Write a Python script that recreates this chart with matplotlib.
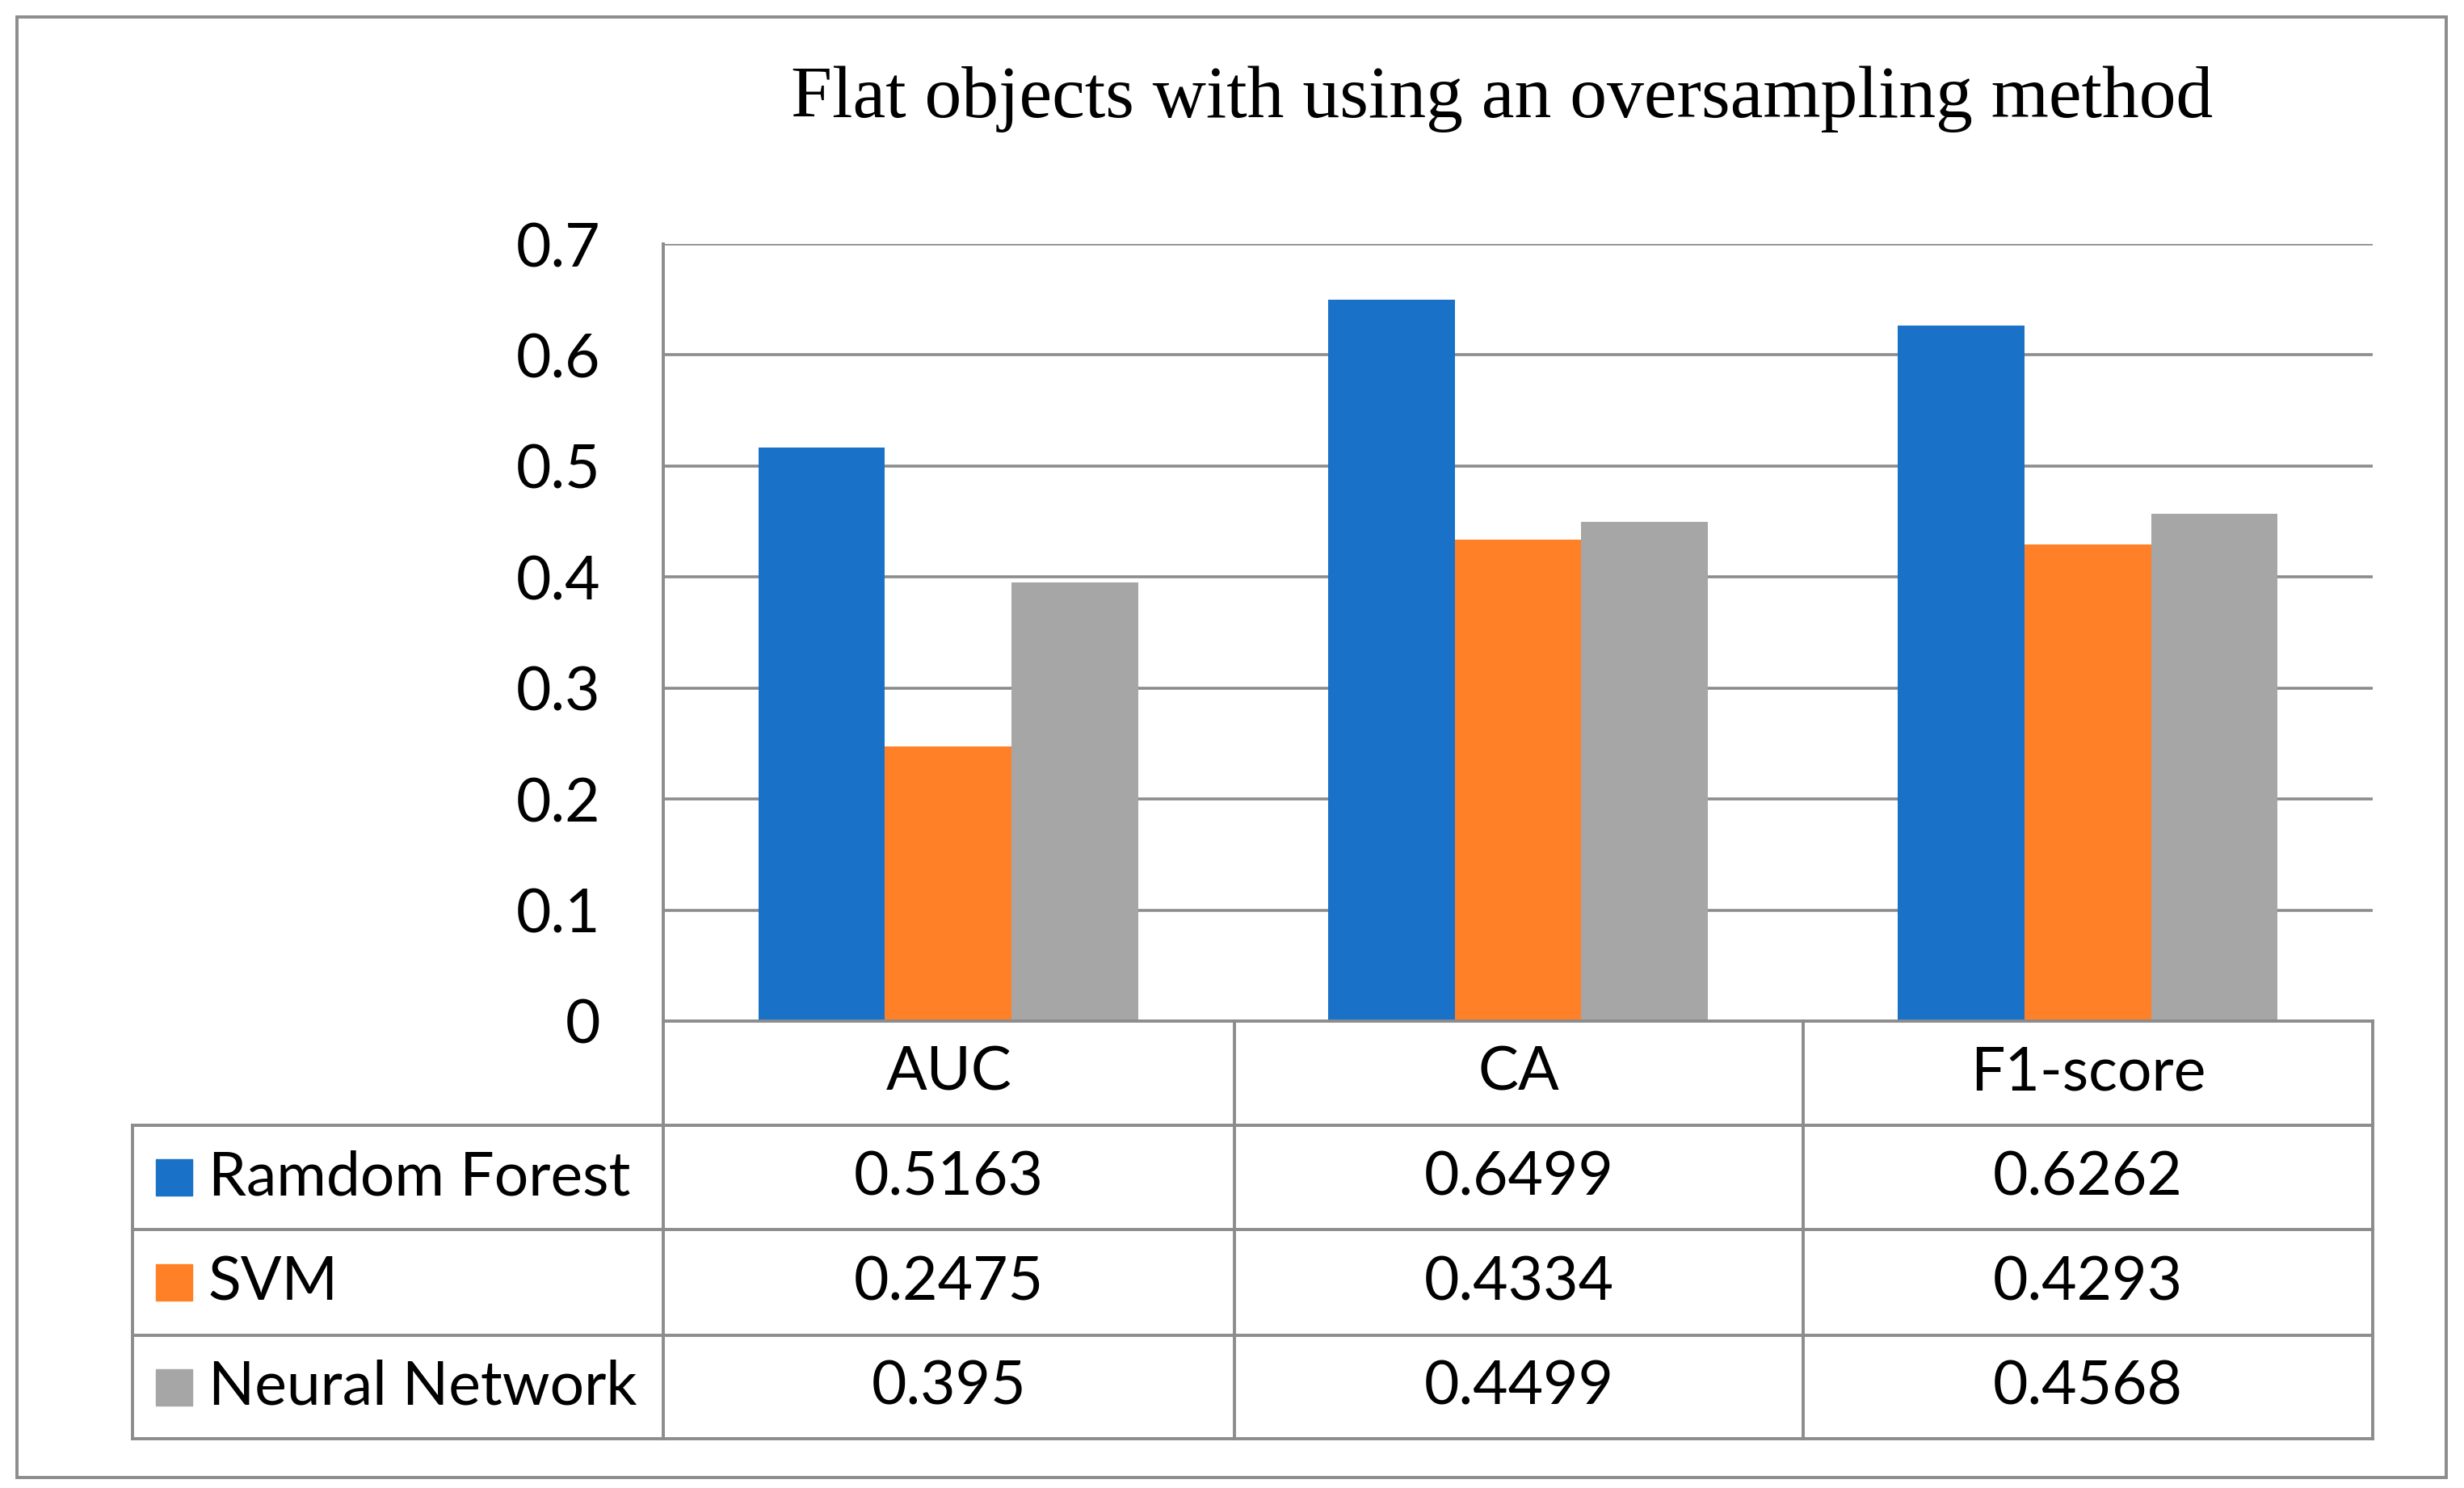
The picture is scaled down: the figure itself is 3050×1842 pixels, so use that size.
import matplotlib
matplotlib.use("Agg")
import matplotlib.pyplot as plt
from matplotlib.lines import Line2D
from matplotlib.patches import Rectangle

categories = ["AUC", "CA", "F1-score"]
series_names = ["Ramdom Forest", "SVM", "Neural Network"]
rf_values = [0.5163, 0.6499, 0.6262]
svm_values = [0.2475, 0.4334, 0.4293]
nn_values = [0.395, 0.4499, 0.4568]
value_labels = [["0.5163", "0.6499", "0.6262"],
                 ["0.2475", "0.4334", "0.4293"],
                 ["0.395", "0.4499", "0.4568"]]
yticks = [0, 0.1, 0.2, 0.3, 0.4, 0.5, 0.6, 0.7]
ytick_labels = ["0", "0.1", "0.2", "0.3", "0.4", "0.5", "0.6", "0.7"]
title = "Flat objects with using an oversampling method"

colors = ["#1a72c8", "#ff8027", "#a6a6a6"]
line_c = "#8c8c8c"
W, H = 3050, 1842
sans = ["Lato", "DejaVu Sans"]
serif = ["Liberation Serif", "DejaVu Serif"]
fs = 54

fig = plt.figure(figsize=(W / 100, H / 100), dpi=100)

def fx(p):
    return p / W

def fy(p):
    return 1 - p / H

# pixel layout
L, R, T, B = 821, 2937, 302, 1264
rows_y = [1264, 1393, 1522, 1653, 1781]
cols_x = [821, 1528, 2232, 2937]
left_x = 164

ax = fig.add_axes([fx(L), fy(B), (R - L) / W, (B - T) / H])
series = [rf_values, svm_values, nn_values]
bw = 1 / 4.5
for k, vals in enumerate(series):
    xs = [i + (k - 1) * bw for i in range(len(categories))]
    ax.bar(xs, vals, width=bw, color=colors[k], zorder=3)
ax.set_xlim(-0.5, len(categories) - 0.5)
ax.set_ylim(0, 0.7)
ax.set_yticks(yticks)
ax.set_yticklabels(ytick_labels, fontsize=fs, family=sans)
ax.tick_params(axis="y", length=0, pad=56)
ax.set_xticks([])
for s in ax.spines.values():
    s.set_visible(False)
for y in yticks[1:]:
    ax.axhline(y, color=line_c, lw=2.6, zorder=1)

lw = 2.8
def hline(y, x0, x1):
    fig.add_artist(Line2D([fx(x0), fx(x1)], [fy(y), fy(y)], color=line_c, lw=lw))

def vline(x, y0, y1):
    fig.add_artist(Line2D([fx(x), fx(x)], [fy(y0), fy(y1)], color=line_c, lw=lw))

hline(rows_y[0], cols_x[0], cols_x[-1])
for y in rows_y[1:]:
    hline(y, left_x, cols_x[-1])
vline(left_x, rows_y[1], rows_y[-1])
vline(cols_x[0], T, rows_y[-1])
for x in cols_x[1:]:
    vline(x, rows_y[0], rows_y[-1])

# header
for j, c in enumerate(categories):
    xc = (cols_x[j] + cols_x[j + 1]) / 2
    yc = (rows_y[0] + rows_y[1]) / 2
    fig.text(fx(xc), fy(yc), c, ha="center", va="center", fontsize=fs, family=sans)

# rows
for k, name in enumerate(series_names):
    yc = (rows_y[k + 1] + rows_y[k + 2]) / 2
    sq = 45
    fig.add_artist(Rectangle((fx(193), fy(yc + sq / 2)), sq / W, sq / H,
                             color=colors[k], transform=fig.transFigure))
    fig.text(fx(258), fy(yc), name, ha="left", va="center", fontsize=fs, family=sans)
    for j in range(len(categories)):
        xc = (cols_x[j] + cols_x[j + 1]) / 2
        fig.text(fx(xc), fy(yc), value_labels[k][j], ha="center", va="center",
                 fontsize=fs, family=sans)

fig.text(fx(1859), fy(123), title, ha="center", va="center", fontsize=66, family=serif)

# outer border
fig.add_artist(Rectangle((fx(21), fy(1829)), (3028 - 21) / W, (1829 - 21) / H,
                         fill=False, edgecolor=line_c, lw=2.8, transform=fig.transFigure))

fig.savefig("out.png", dpi=100)
